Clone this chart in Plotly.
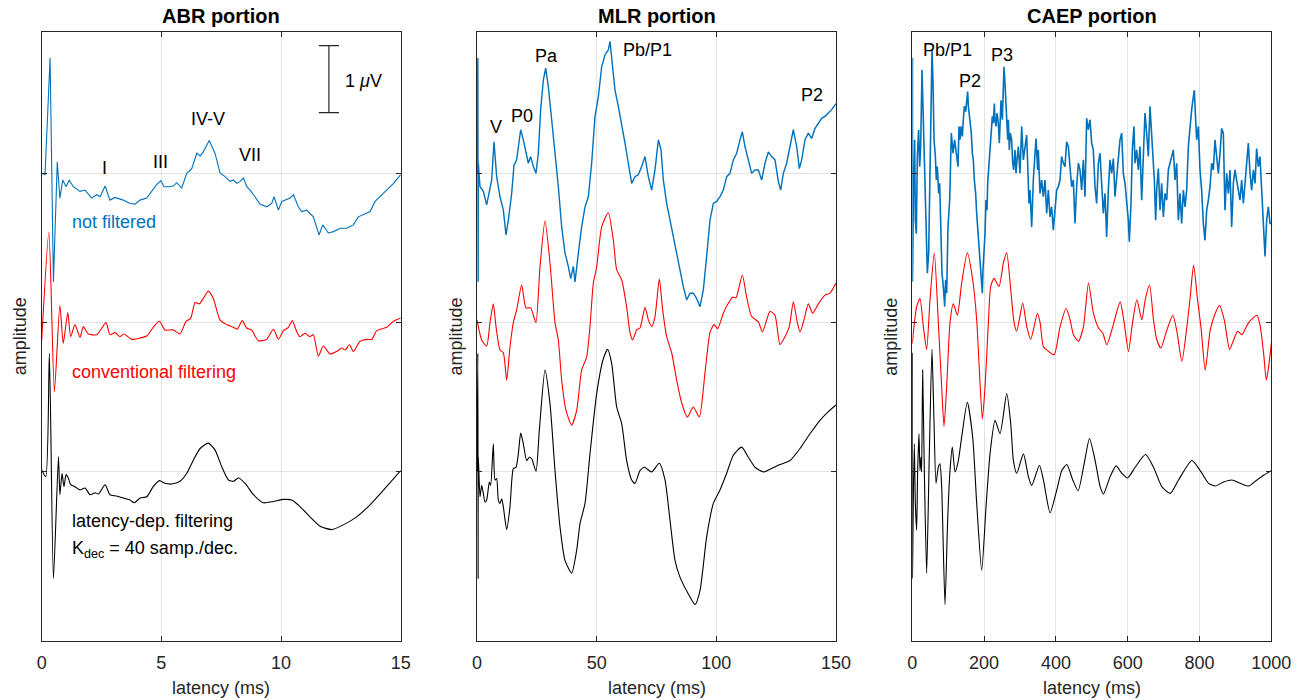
import plotly.graph_objects as go

W, H = 1306, 700

# ---------------- data (latency in ms, amplitude in microvolts) ----------------
# ABR portion
abr_blue_t = [0.0, 0.14, 0.35, 0.49, 0.65, 0.76, 0.88, 1.02, 1.15, 1.32, 1.60, 1.81, 2.09, 2.30, 2.44, 2.65, 2.85, 3.06,
              3.41, 3.69, 3.90, 4.11, 4.39, 4.60, 4.80, 4.98, 5.11, 5.29, 5.50, 5.64, 5.85, 6.06, 6.27, 6.48, 6.62, 6.75,
              7.00, 7.24, 7.45, 7.66, 7.87, 8.01, 8.15, 8.29, 8.43, 8.57, 8.71, 8.91, 9.12, 9.40, 9.61, 9.71, 9.89, 10.03,
              10.21, 10.38, 10.52, 10.72, 10.86, 11.07, 11.35, 11.49, 11.59, 11.74, 11.98, 12.19, 12.47, 12.74, 13.02,
              13.23, 13.44, 13.72, 13.93, 14.14, 14.42, 14.70, 15.0]
abr_blue_v = [0.0, -0.02, 1.72, -1.62, 0.17, -0.37, -0.10, -0.20, -0.10, -0.20, -0.27, -0.25, -0.37, -0.32, -0.35, -0.19,
              -0.40, -0.36, -0.40, -0.45, -0.46, -0.40, -0.37, -0.27, -0.17, -0.11, -0.20, -0.20, -0.19, -0.14, -0.22,
              0.0, 0.07, 0.30, 0.26, 0.32, 0.49, 0.30, 0.01, -0.05, -0.12, -0.10, -0.15, -0.12, -0.07, -0.20, -0.25,
              -0.35, -0.46, -0.50, -0.45, -0.35, -0.55, -0.42, -0.40, -0.37, -0.32, -0.50, -0.57, -0.55, -0.65, -0.80,
              -0.92, -0.77, -0.89, -0.87, -0.82, -0.82, -0.77, -0.65, -0.62, -0.57, -0.42, -0.35, -0.25, -0.15, -0.02]

abr_red_t = [0.0, 0.30, 0.53, 0.76, 0.90, 1.09, 1.21, 1.39, 1.60, 1.74, 1.95, 2.30, 2.69, 2.85, 3.06, 3.27, 3.44, 3.76,
             4.11, 4.39, 4.66, 4.92, 5.15, 5.50, 5.78, 6.03, 6.22, 6.41, 6.59, 6.75, 6.96, 7.17, 7.45, 7.73, 8.01, 8.17,
             8.38, 8.56, 8.77, 9.05, 9.40, 9.68, 9.89, 10.10, 10.31, 10.47, 10.65, 10.79, 11.00, 11.21, 11.35, 11.56,
             11.77, 12.05, 12.33, 12.54, 12.68, 12.86, 13.02, 13.30, 13.58, 13.79, 14.00, 14.42, 14.70, 15.0]
abr_red_v = [-0.26, 1.35, -1.03, 0.26, -0.31, 0.15, -0.21, -0.03, -0.22, -0.06, -0.17, -0.18, 0.0, -0.18, -0.15, -0.21,
             -0.17, -0.25, -0.23, -0.20, -0.07, 0.02, -0.11, -0.11, -0.17, 0.02, 0.06, 0.30, 0.28, 0.36, 0.47, 0.36,
             0.04, -0.03, -0.07, -0.10, 0.03, -0.08, -0.11, -0.27, -0.25, -0.10, -0.25, -0.12, -0.07, 0.03, -0.13,
             -0.21, -0.16, -0.21, -0.18, -0.50, -0.35, -0.47, -0.43, -0.38, -0.41, -0.33, -0.43, -0.28, -0.25, -0.25,
             -0.12, -0.07, 0.02, 0.07]

abr_black_t = [0.0, 0.17, 0.32, 0.49, 0.70, 0.76, 0.85, 0.93, 1.02, 1.11, 1.21, 1.39, 1.60, 1.81, 2.02, 2.23, 2.37, 2.65,
               2.85, 3.13, 3.41, 3.69, 3.87, 4.11, 4.39, 4.66, 4.92, 5.15, 5.43, 5.78, 6.06, 6.34, 6.62, 6.96, 7.24,
               7.52, 7.80, 8.01, 8.22, 8.50, 8.85, 9.26, 9.68, 10.10, 10.45, 10.80, 11.21, 11.63, 12.12, 12.60, 13.16,
               13.72, 14.28, 15.0]
abr_black_v = [0.03, -0.07, 1.77, -1.59, 0.23, -0.34, -0.02, -0.22, -0.04, -0.09, -0.19, -0.22, -0.27, -0.24, -0.34,
               -0.31, -0.33, -0.19, -0.34, -0.36, -0.39, -0.42, -0.46, -0.39, -0.37, -0.22, -0.13, -0.17, -0.18, -0.14,
               -0.02, 0.18, 0.35, 0.43, 0.33, 0.08, -0.12, -0.14, -0.09, -0.17, -0.34, -0.46, -0.44, -0.41, -0.42,
               -0.52, -0.67, -0.81, -0.86, -0.79, -0.67, -0.49, -0.27, 0.02]

# MLR portion
mlr_blue_t = [0.0, 0.35, 0.49, 0.56, 1.25, 2.65, 4.04, 5.15, 6.13, 7.10, 8.22, 9.61, 11.00, 12.12, 13.09, 14.48, 15.46,
              16.57, 18.25, 19.36, 20.47, 21.45, 22.42, 23.54, 24.65, 25.63, 26.60, 27.72, 28.69, 29.81, 31.20, 32.59,
              33.98, 35.38, 36.77, 38.16, 39.14, 40.25, 40.95, 42.34, 43.73, 45.13, 46.52, 47.91, 49.30, 50.70, 52.09,
              53.48, 54.87, 55.57, 56.27, 57.66, 59.05, 60.45, 61.84, 63.23, 64.62, 66.02, 67.41, 68.80, 70.19, 71.59,
              72.98, 74.37, 75.77, 76.88, 77.86, 79.25, 80.64, 82.03, 83.43, 84.82, 86.21, 87.60, 89.00, 90.39, 91.78,
              93.18, 94.57, 95.96, 97.35, 98.75, 100.14, 101.53, 102.92, 104.32, 105.71, 107.10, 108.50, 109.89,
              110.86, 111.98, 113.37, 114.76, 116.16, 117.55, 118.94, 120.33, 121.73, 123.12, 124.51, 125.91, 126.88,
              127.99, 129.39, 130.78, 132.17, 133.57, 134.68, 135.65, 137.05, 138.44, 139.83, 141.23, 142.62, 144.01,
              145.40, 146.80, 148.19, 150.0]
mlr_blue_v = [0.0, 1.72, -1.62, 0.15, -0.20, -0.27, -0.47, -0.25, -0.10, 0.47, -0.05, -0.35, -0.55, -0.92, -0.70, -0.30,
              0.12, 0.20, 0.65, 0.50, 0.30, 0.15, 0.25, 0.10, 0.0, 0.30, 0.95, 1.39, 1.57, 1.29, 0.80, 0.35, -0.20,
              -0.80, -1.19, -1.39, -1.57, -1.39, -1.62, -1.19, -0.80, -0.50, -0.35, 0.15, 0.85, 1.14, 1.59, 1.77, 1.84,
              1.97, 1.74, 1.24, 1.00, 0.75, 0.45, 0.15, -0.15, -0.05, -0.02, 0.10, 0.25, -0.05, -0.25, 0.05, 0.50,
              0.35, -0.10, -0.45, -0.70, -0.90, -1.19, -1.44, -1.69, -1.89, -1.79, -1.79, -1.87, -1.99, -1.74, -1.24,
              -0.70, -0.45, -0.42, -0.35, -0.25, -0.05, 0.0, 0.20, 0.30, 0.50, 0.62, 0.40, 0.20, 0.0, 0.05, 0.05,
              -0.10, 0.15, 0.32, 0.25, 0.20, -0.12, -0.25, 0.0, 0.15, 0.40, 0.65, 0.40, 0.07, 0.20, 0.50, 0.60, 0.52,
              0.67, 0.75, 0.82, 0.85, 0.90, 0.95, 1.04]

mlr_red_t = [0.0, 1.95, 4.04, 5.43, 6.82, 7.94, 9.61, 11.00, 12.40, 13.79, 15.18, 16.57, 18.66, 20.47, 22.42, 23.54,
             24.65, 26.32, 28.41, 30.50, 32.59, 33.98, 35.38, 37.19, 39.55, 41.64, 43.73, 45.82, 47.21, 48.61, 50.00,
             52.09, 54.87, 56.96, 58.36, 60.45, 62.53, 63.93, 65.04, 66.71, 68.11, 70.19, 71.59, 72.98, 74.37, 76.18,
             77.58, 79.25, 81.34, 83.43, 85.52, 87.88, 90.39, 92.90, 95.26, 97.35, 99.03, 100.56, 102.92, 105.01,
             106.82, 108.22, 110.86, 112.67, 114.76, 117.55, 119.22, 121.03, 122.42, 124.51, 126.60, 128.69, 130.50,
             132.17, 133.84, 134.96, 136.63, 138.44, 140.25, 142.62, 145.40, 147.49, 150.0]
mlr_red_v = [0.04, -0.26, -0.35, 0.0, 0.28, -0.06, -0.41, -0.45, -0.86, -0.36, 0.0, 0.19, 0.56, 0.22, 0.22, 0.11, 0.0,
             0.83, 1.52, 0.89, 0.0, -0.26, -0.86, -1.31, -1.53, -1.31, -0.71, -0.51, -0.06, 0.59, 0.83, 1.43, 1.64,
             1.23, 0.79, 0.64, 0.23, -0.15, -0.26, -0.11, -0.08, 0.23, 0.04, -0.06, 0.09, 0.65, 0.19, -0.21, -0.45,
             -0.86, -1.20, -1.41, -1.26, -1.41, -0.75, -0.15, -0.03, -0.09, 0.14, 0.29, 0.38, 0.37, 0.71, 0.38, 0.09,
             0.01, -0.14, 0.04, 0.17, 0.11, -0.33, -0.21, -0.06, 0.31, 0.0, -0.14, 0.04, 0.28, 0.14, 0.28, 0.41, 0.44,
             0.59]

mlr_black_t = [0.0, 0.35, 0.49, 0.56, 1.25, 1.95, 2.65, 3.34, 4.04, 5.15, 5.71, 6.82, 7.52, 8.22, 8.91, 9.61, 10.31,
               11.00, 12.40, 13.79, 15.18, 16.30, 17.27, 18.25, 19.36, 20.75, 21.87, 22.84, 24.65, 26.04, 28.41, 30.50,
               32.59, 34.68, 36.77, 39.55, 41.64, 43.04, 45.13, 47.21, 50.00, 52.79, 54.60, 56.27, 58.36, 60.45, 62.53,
               64.62, 66.02, 68.11, 69.92, 72.98, 76.18, 78.55, 80.64, 82.73, 84.82, 88.30, 91.09, 93.18, 95.96, 98.75,
               101.53, 104.32, 107.10, 110.58, 113.37, 116.16, 119.64, 122.42, 126.60, 130.78, 134.96, 139.14, 143.32,
               146.80, 150.0]
mlr_black_v = [0.0, 1.77, -1.59, 0.22, -0.37, -0.20, -0.32, -0.45, -0.42, -0.15, -0.20, 0.42, -0.12, -0.10, -0.42,
               -0.47, -0.40, -0.52, -0.86, -0.52, 0.05, 0.07, 0.27, 0.58, 0.42, 0.17, 0.22, 0.20, 0.01, 0.62, 1.52,
               1.02, 0.02, -0.82, -1.32, -1.51, -1.17, -0.77, -0.47, 0.27, 1.17, 1.69, 1.83, 1.62, 0.97, 0.72, 0.17,
               -0.12, -0.17, 0.02, 0.07, 0.0, 0.13, -0.12, -0.72, -1.32, -1.57, -1.82, -1.98, -1.77, -0.97, -0.47,
               -0.27, -0.02, 0.25, 0.37, 0.22, 0.07, 0.0, 0.04, 0.11, 0.17, 0.35, 0.57, 0.77, 0.90, 1.00]

# CAEP portion
caep_blue_t = [0.0, 0.35, 0.49,
               2.9, 6.6, 8.4, 11.2, 14.0, 17.7, 20.5, 23.3, 27.1, 29.8, 32.6, 36.3, 39.1, 41.9, 45.6, 48.4, 51.2, 54.9,
               57.7, 60.5, 64.2, 66.9, 69.7, 73.4, 76.2, 79.0, 82.7, 86.4, 90.2, 92.9, 95.8, 99.4, 104.1, 108.7, 113.4,
               118.0, 122.6, 127.3,
               130.1, 132.9, 135.7, 139.4, 142.1, 144.9, 148.7, 151.5, 154.2, 156.1, 158.9, 161.6, 164.4, 167.2, 170.0,
               172.8, 176.5, 179.3, 182.1, 185.8, 188.6, 191.4, 193.2, 195.1, 196.9, 199.7, 202.5, 205.3, 208.1, 209.9,
               213.6, 216.4, 219.2, 222.9, 225.7, 228.5, 230.3, 233.1, 235.9, 239.6, 242.4, 244.3, 247.1, 250.8, 253.7,
               255.4, 258.2, 261.0, 262.9, 265.7, 267.5, 270.3, 273.1, 276.8, 279.6, 282.4, 286.1, 288.9, 291.7, 295.4,
               300.0, 304.7, 309.3,
               313.9, 318.5, 321.3, 325.0, 327.8, 332.5, 337.1, 341.8, 344.5, 349.2, 351.0, 355.7, 360.3, 365.0, 369.6,
               374.3, 378.9, 383.5, 388.2, 392.8, 397.5, 402.1, 406.7, 411.4, 416.0, 420.7, 425.3, 430.0, 434.6, 439.2,
               443.9, 448.5, 453.2, 457.8, 462.5, 467.1, 471.7, 476.4, 481.0, 485.7, 490.3, 495.0, 499.6, 504.2, 508.9,
               513.5, 518.2, 522.8, 527.5, 532.1, 536.7, 541.4, 546.0, 550.7, 555.3, 560.0, 564.6, 569.2, 573.9, 578.5,
               583.2, 587.8, 592.5, 597.1, 601.7, 604.5, 609.2, 612.9, 617.5, 620.3, 625.0, 629.6, 634.2, 638.9, 643.5,
               648.2, 652.8, 657.5, 662.1, 664.9, 668.6, 671.4, 674.2, 677.9, 680.7, 685.3, 690.0, 694.6, 699.3, 703.9,
               708.6, 713.2, 717.8, 722.5, 727.1, 731.8, 736.4, 741.1, 745.7, 750.3, 755.0, 759.6, 764.3, 768.9, 773.5,
               778.2, 782.8, 785.6, 789.3, 792.1, 796.8, 801.4, 806.0, 810.7, 815.3, 820.0, 824.6, 829.3, 833.9, 838.5,
               843.2, 847.8, 852.5, 857.1, 861.8, 866.4, 871.0, 875.7, 880.3, 885.0, 889.6, 894.3, 898.9, 903.5, 908.2,
               912.8, 917.5, 922.1, 926.8, 931.4, 936.0, 940.7, 945.3, 950.0, 954.6, 959.2, 963.9, 968.5, 973.2, 977.8,
               982.5, 987.1, 991.8, 996.4, 1000.0]
caep_blue_v = [0.0, 1.72, -1.62,
               -0.42, 0.50, -0.70, -0.90, 0.25, 0.65, 0.10, 0.40, 1.54, 1.00, 0.50, -0.25, -0.90, -1.49, -1.19, -0.10,
               1.09, 1.84, 1.34, 0.50, 0.25, -0.10, 0.10, -0.30, -0.15, -0.80, -1.49, -1.69, -1.99, -1.59, -1.79, -0.80,
               -0.40, 0.60, 0.30, 0.50, 0.25, 0.10,
               0.70, 0.50, 0.70, 0.55, 0.80, 1.00, 0.92, 1.14, 1.22, 1.00, 0.85, 0.70, 0.60, 0.30, 0.20, -0.10, -0.30,
               -0.60, -0.80, -1.04, -1.39, -1.49, -1.69, -1.79, -1.44, -1.19, -0.90, -0.40, -0.55, -0.15, 0.10, 0.35,
               0.50, 0.85, 0.75, 1.04, 0.80, 0.70, 0.90, 0.75, 0.45, 0.85, 1.09, 0.80, 1.39, 1.59, 1.34, 1.00, 0.70,
               0.50, 0.80, 0.35, 0.60, 0.50, 0.15, 0.05, 0.35, 0.0, 0.20, 0.40, 0.0, 0.70, 0.20,
               0.40, 0.57, 0.15, -0.45, -0.25, -0.80, -0.10, 0.25, 0.52, 0.05, 0.35, -0.30, -0.10, -0.35, -0.10, -0.60,
               -0.25, -0.65, -0.50, -0.85, -0.60, -0.25, -0.20, -0.10, 0.25, 0.15, 0.10, 0.47, 0.40, 0.10, -0.20,
               -0.10, -0.75, -0.20, 0.15, 0.05, -0.25, 0.20, -0.35, 0.82, 0.65, 0.80, 0.45, 0.35, -0.20, -0.45, 0.15,
               0.30, -0.10, -0.60, -0.30, -0.95, -0.25, 0.20, 0.0, 0.22, -0.35, -0.05, 0.30, 0.50, 0.60, 0.0, -0.15,
               -0.40, -0.70, -1.02, -0.45, 0.35, 0.70, 0.15, 0.35, 0.05, 0.40, -0.40, 0.15,
               0.90, 0.60, 0.25, 1.00, 0.75, 0.40, 0.15, -0.10, -0.70, -0.25, 0.07, -0.55, -0.15, -0.65, -0.30, -0.40,
               0.05, 0.15, 0.25, 0.35, -0.10, 0.15, -0.70, -0.30, -0.75, -0.25, -0.50, -0.25, 0.40, 0.75, 0.95, 1.14,
               1.24, 0.80, 0.50, 0.70, 0.05, -0.25, -0.75, -1.00, -0.55, -0.40, -0.20, 0.15, 0.05, 0.50, 0.25, 0.0,
               0.30, 0.67, 0.60, -0.55, 0.0, -0.30, 0.05, -0.80, -0.15, 0.05, -0.10, -0.25, -0.40, -0.10, -0.45, -0.15,
               0.20, 0.45, 0.0, -0.25, 0.05, -0.15, 0.37, 0.10, 0.25, -0.25, -0.90, -1.24, -0.70, -0.50, -0.75, -0.75]

caep_red_t = [0.0, 12.1, 21.4, 30.7, 40.0, 49.3, 61.3, 72.5, 81.8, 88.3, 95.7, 105.0, 114.3, 125.5, 137.5, 153.3, 168.2,
              179.4, 186.8, 195.2, 202.6, 211.9, 218.4, 227.7, 241.6, 253.7, 263.0, 274.2, 283.5, 290.9, 307.6, 318.8,
              329.9, 348.5, 356.0, 365.2, 379.2, 395.0, 411.7, 428.4, 439.6, 448.9, 462.8, 476.8, 490.7, 504.6, 518.6,
              530.7, 541.8, 555.8, 579.0, 590.1, 602.2, 613.4, 625.5, 639.4, 648.7, 660.8, 671.9, 681.2, 692.4, 709.1,
              725.8, 737.0, 750.9, 764.9, 774.2, 783.5, 794.6, 803.9, 816.0, 829.9, 843.9, 855.9, 869.0, 883.8, 895.0,
              906.1, 918.2, 936.8, 960.0, 969.3, 978.6, 986.1, 992.6, 1000.0]
caep_red_v = [-0.31, 0.24, 0.36, -0.06, -0.40, 0.34, 1.04, 0.0, -0.96, -1.55, -0.96, 0.0, 0.28, 0.11, 0.59, 1.04, 0.64,
              0.04, -0.71, -1.44, -0.96, 0.0, 0.54, 0.66, 0.54, 0.89, 1.04, 0.49, 0.0, -0.13, 0.29, -0.06, -0.25, 0.14,
              0.0, -0.36, -0.43, -0.48, -0.06, 0.21, 0.04, -0.18, -0.28, -0.06, 0.59, 0.14, -0.08, -0.16, -0.33, -0.11,
              0.31, 0.0, -0.43, 0.0, 0.34, 0.04, 0.34, 0.56, 0.04, -0.26, -0.38, -0.11, 0.11, -0.13, -0.58, -0.06,
              0.39, 0.86, 0.34, -0.06, -0.71, -0.11, 0.14, 0.26, 0.04, -0.40, -0.26, -0.13, -0.18, 0.0, 0.11, -0.06,
              -0.46, -0.86, -0.66, -0.31]

caep_black_t = [0.0, 0.35, 0.49, 2.8, 5.6, 8.4, 12.1, 14.9, 18.6, 21.4, 24.2, 26.0, 28.8, 33.5, 40.0, 47.4, 54.8, 60.4,
                66.0, 72.5, 77.1, 81.8, 91.1, 98.5, 105.0, 111.5, 119.0, 128.3, 137.5, 153.3, 168.2, 179.4, 193.3,
                205.4, 216.5, 230.5, 244.4, 263.0, 274.2, 281.6, 290.9, 309.5, 323.4, 332.7, 354.1, 365.2, 383.8, 402.4,
                416.4, 430.3, 447.0, 461.9, 478.6, 493.5, 509.3, 523.2, 532.5, 551.1, 567.8, 583.6, 599.4, 620.8, 649.6,
                671.9, 695.2, 718.4, 741.6, 778.8, 802.0, 825.3, 843.9, 867.1, 890.3, 913.6, 936.8, 960.0, 978.6,
                1000.0]
caep_black_v = [0.0, 1.77, -1.59, -0.42, 0.42, -0.45, -0.87, 0.02, 0.57, 0.02, 0.22, 0.0, 1.52, 0.02, -1.51, 0.27,
                1.83, 0.77, -0.17, 0.07, 0.12, -0.22, -1.98, -0.72, 0.02, 0.37, 0.0, 0.17, 0.52, 1.04, 0.52, -0.47,
                -1.47, -0.52, 0.27, 0.77, 0.57, 1.17, 0.72, 0.17, -0.02, 0.27, -0.07, -0.20, 0.10, -0.12, -0.61,
                -0.27, 0.02, 0.11, -0.12, -0.28, 0.12, 0.50, 0.17, -0.22, -0.33, -0.07, 0.09, -0.02, -0.09, 0.07, 0.26,
                0.07, -0.22, -0.32, -0.12, 0.17, 0.02, -0.17, -0.21, -0.15, -0.12, -0.17, -0.21, -0.12, -0.05, 0.02]

# vertical offsets of the three traces (microvolts) and tick labels
offset_blue, offset_red, offset_black = 0.0, -2.228, -4.457
x_ranges = [[0, 15], [0, 150], [0, 1000]]
x_ticks = [[0, 5, 10, 15], [0, 50, 100, 150], [0, 200, 400, 600, 800, 1000]]
panel_titles = ["ABR portion", "MLR portion", "CAEP portion"]
y_range = [-6.98, 2.109]

# ---------------- figure ----------------
BLUE, RED, BLACK = "#0072BD", "#FF0000", "#000000"
AX = "#262626"
FONT = "Liberation Sans, Arial, Helvetica, sans-serif"


def px(x):
    return x / W


def py(y):
    return 1 - y / H


panels = [
    ((41.7, 400.7), (abr_blue_t, abr_blue_v), (abr_red_t, abr_red_v), (abr_black_t, abr_black_v), 1.1),
    ((477.0, 836.0), (mlr_blue_t, mlr_blue_v), (mlr_red_t, mlr_red_v), (mlr_black_t, mlr_black_v), 1.4),
    ((912.3, 1271.3), (caep_blue_t, caep_blue_v), (caep_red_t, caep_red_v), (caep_black_t, caep_black_v), 1.6),
]

fig = go.Figure()
ydom = [py(641), py(32)]
layout = dict(
    width=W, height=H, margin=dict(l=0, r=0, t=0, b=0),
    paper_bgcolor="white", plot_bgcolor="white", showlegend=False,
    font=dict(family=FONT, size=18, color=AX),
)
annotations = []
shapes = []
for i, (xdom, b, r, k, bw) in enumerate(panels):
    sfx = "" if i == 0 else str(i + 1)
    xa, ya = "x" + sfx, "y" + sfx
    for (tt, vv), off, col, shp, lw in [(b, offset_blue, BLUE, "linear", bw),
                                        (r, offset_red, RED, "spline", 1.1),
                                        (k, offset_black, BLACK, "spline", 1.1)]:
        fig.add_trace(go.Scatter(x=tt, y=[v + off for v in vv], mode="lines", xaxis=xa, yaxis=ya,
                                 line=dict(color=col, width=lw, shape=shp, smoothing=0.6),
                                 hoverinfo="skip"))
    layout["xaxis" + sfx] = dict(
        domain=[px(xdom[0]), px(xdom[1])], range=x_ranges[i], tickvals=x_ticks[i], anchor=ya,
        ticks="inside", ticklen=5, tickcolor=AX, tickwidth=1, showline=True, linecolor=AX, linewidth=1,
        mirror="ticks", showgrid=True, gridcolor="#e3e3e3", gridwidth=1, zeroline=False,
        tickfont=dict(size=18, color=AX), automargin=False, ticklabelstandoff=5,
    )
    layout["yaxis" + sfx] = dict(
        domain=ydom, range=y_range, tickvals=[offset_black, offset_red, offset_blue], anchor=xa,
        showticklabels=False, ticks="inside", ticklen=5, tickcolor=AX, tickwidth=1, showline=True,
        linecolor=AX, linewidth=1, mirror="ticks", showgrid=True, gridcolor="#e3e3e3", gridwidth=1,
        zeroline=False, automargin=False,
    )
    cx = (xdom[0] + xdom[1]) / 2
    annotations.append(dict(text="<b>" + panel_titles[i] + "</b>", x=px(cx), y=py(16), xref="paper", yref="paper",
                            showarrow=False, font=dict(size=20, color="black"), xanchor="center", yanchor="middle"))
    annotations.append(dict(text="latency (ms)", x=px(cx), y=py(688), xref="paper", yref="paper",
                            showarrow=False, font=dict(size=18, color=AX), xanchor="center", yanchor="middle"))
    annotations.append(dict(text="amplitude", x=px(xdom[0] - 21), y=py(336.5), xref="paper", yref="paper",
                            showarrow=False, textangle=-90, font=dict(size=18, color=AX),
                            xanchor="center", yanchor="middle"))


def label(text, x, y, color="black", anchor="center"):
    annotations.append(dict(text=text, x=px(x), y=py(y), xref="paper", yref="paper", showarrow=False,
                            font=dict(size=18, color=color), xanchor=anchor, yanchor="middle"))


# ABR labels
label("I", 104.3, 168)
label("III", 160, 162)
label("IV-V", 208.3, 119)
label("VII", 249.5, 155)
label("not filtered", 70, 222, BLUE, "left")
label("conventional filtering", 70, 372, RED, "left")
label("latency-dep. filtering", 70, 521, "black", "left")
label("K<sub>dec</sub> = 40 samp./dec.", 70, 549, "black", "left")
label("1 <i>μ</i>V", 343, 81, "black", "left")
# MLR labels
label("V", 495.8, 127)
label("P0", 522, 116.5)
label("Pa", 546.3, 56)
label("Pb/P1", 647.6, 50)
label("P2", 811.5, 95)
# CAEP labels
label("Pb/P1", 947.8, 50)
label("P2", 969.5, 81)
label("P3", 1002, 54.7)

# 1 microvolt scale bar in the ABR panel
bar_x, bar_lo, bar_hi, cap = 12.0, 0.905, 1.905, 0.42
shapes.append(dict(type="line", xref="x", yref="y", x0=bar_x, x1=bar_x, y0=bar_lo, y1=bar_hi,
                   line=dict(color=AX, width=1.2)))
for yy in (bar_lo, bar_hi):
    shapes.append(dict(type="line", xref="x", yref="y", x0=bar_x - cap, x1=bar_x + cap, y0=yy, y1=yy,
                       line=dict(color=AX, width=1.2)))

layout["annotations"] = annotations
layout["shapes"] = shapes
fig.update_layout(**layout)
fig.write_html("out.html", config={"displayModeBar": False},
               post_script="document.body.style.margin='0';document.body.style.overflow='hidden';")
